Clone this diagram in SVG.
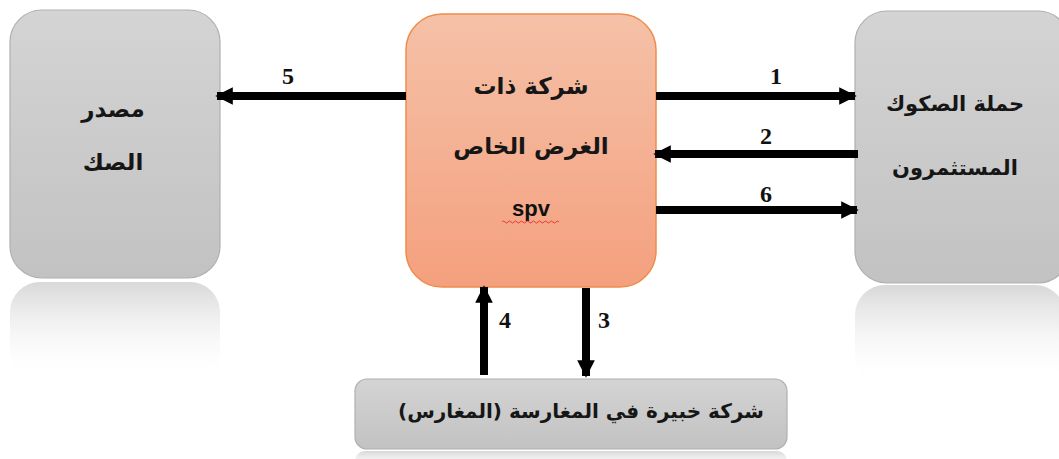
<svg xmlns="http://www.w3.org/2000/svg" width="1059" height="459" viewBox="0 0 1059 459">
<style>
.gray{stroke:#b0b0b0;stroke-width:1.2;fill:url(#g)}
.ar{font-family:"DejaVu Sans",sans-serif;font-size:23px;font-weight:bold;fill:#161616;text-anchor:middle}
.ar.m{font-size:21px}
.ar.s{font-size:20px}
.num{font-family:"Liberation Serif",serif;font-weight:bold;font-size:24px;fill:#111;text-anchor:middle}
.conn line{stroke:#000;stroke-width:8}
</style>
<defs>
<linearGradient id="g" x1="0" y1="0" x2="0" y2="1"><stop offset="0" stop-color="#d4d4d4"/><stop offset="1" stop-color="#c2c2c2"/></linearGradient>
<linearGradient id="o" x1="0" y1="0" x2="0" y2="1"><stop offset="0" stop-color="#f5c1a8"/><stop offset="1" stop-color="#f4a07e"/></linearGradient>
<linearGradient id="r" x1="0" y1="0" x2="0" y2="1"><stop offset="0" stop-color="#d8d8d8"/><stop offset="1" stop-color="#ffffff" stop-opacity="0"/></linearGradient>
<marker id="ah" viewBox="0 0 10 10" refX="9" refY="5" markerWidth="2.2" markerHeight="2.5" orient="auto" markerUnits="strokeWidth"><path d="M0,0 L10,5 L0,10 Z" fill="#000"/></marker>
</defs>
<rect width="1059" height="459" fill="#fff"/>
<g id="reflections">
<rect x="10" y="282" width="210" height="100" rx="30" fill="url(#r)"/>
<rect x="855" y="285" width="210" height="100" rx="30" fill="url(#r)"/>
<rect x="355" y="451" width="432" height="20" rx="10" fill="url(#r)"/>
</g>
<g id="node-source">
<rect class="gray" x="10" y="10" width="210" height="268" rx="32"/>
<text class="ar" x="113" y="117">مصدر</text>
<text class="ar" x="113" y="170">الصك</text>
</g>
<g id="node-spv">
<rect x="406" y="14" width="250" height="273" rx="36" fill="url(#o)" stroke="#f08c4a" stroke-width="1.5"/>
<text class="ar" x="531" y="94">شركة ذات</text>
<text class="ar" x="531" y="154">الغرض الخاص</text>
<text x="531" y="216" font-family="Liberation Sans,sans-serif" font-weight="bold" font-size="22" text-anchor="middle" fill="#111">spv</text>
<path d="M502,222 q1.5,-2 3,0 t3,0 t3,0 t3,0 t3,0 t3,0 t3,0 t3,0 t3,0 t3,0 t3,0 t3,0 t3,0 t3,0 t3,0 t3,0 t3,0 t3,0 t3,0" fill="none" stroke="#e03030" stroke-width="0.9"/>
</g>
<g id="node-holders">
<rect class="gray" x="855" y="11" width="215" height="272" rx="32"/>
<text class="ar m" x="955" y="111">حملة الصكوك</text>
<text class="ar m" x="955" y="175">المستثمرون</text>
</g>
<g id="node-mugharis">
<rect class="gray" x="355" y="379" width="432" height="70" rx="12"/>
<text class="ar s" x="581" y="418">شركة خبيرة في المغارسة (المغارس)</text>
</g>
<g id="connectors" class="conn">
<line x1="406" y1="96" x2="217" y2="96" marker-end="url(#ah)"/>
<line x1="656" y1="96" x2="855" y2="96" marker-end="url(#ah)"/>
<line x1="858" y1="154" x2="655" y2="154" marker-end="url(#ah)"/>
<line x1="656" y1="210" x2="857" y2="210" marker-end="url(#ah)"/>
<line x1="484" y1="375" x2="484" y2="287" marker-end="url(#ah)"/>
<line x1="586" y1="288" x2="586" y2="376" marker-end="url(#ah)"/>
<text class="num" x="288" y="84">5</text>
<text class="num" x="776" y="84">1</text>
<text class="num" x="766" y="144">2</text>
<text class="num" x="766" y="202">6</text>
<text class="num" x="505" y="328">4</text>
<text class="num" x="604" y="328">3</text>
</g>
</svg>
